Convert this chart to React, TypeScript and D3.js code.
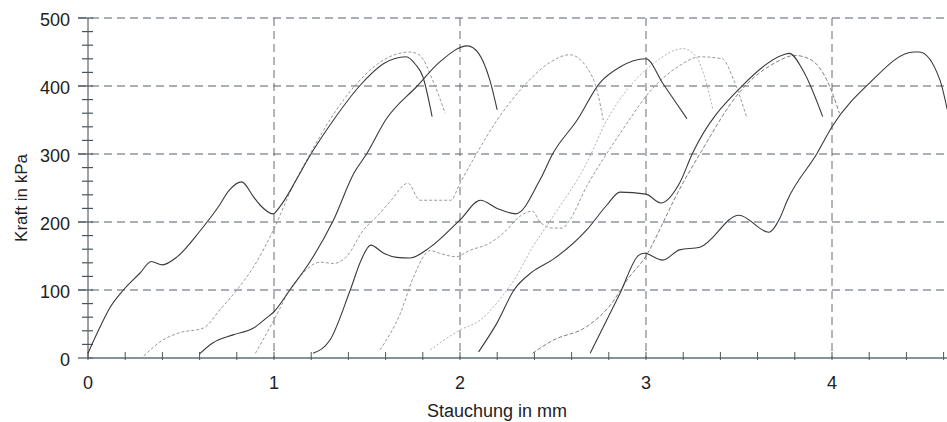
import React from "react";
import * as d3 from "d3";

// Kraft-Stauchungs-Kurven (Stauchung in mm, Kraft in kPa)
const kurveA = [[0, 7], [0.05, 37], [0.12, 75], [0.19, 100], [0.28, 125], [0.34, 142], [0.4, 137], [0.48, 149], [0.6, 186], [0.7, 222], [0.76, 247], [0.826, 259], [0.89, 237], [0.925, 225], [0.995, 212], [1.03, 222], [1.12, 262], [1.19, 296], [1.32, 350], [1.46, 400], [1.59, 433], [1.71, 443], [1.76, 432], [1.8, 414], [1.85, 355]];
const kurveB = [[0.3, 3], [0.4, 26], [0.49, 37], [0.62, 44], [0.71, 71], [0.8, 100], [0.89, 134], [1.0, 190], [1.1, 252], [1.2, 303], [1.3, 350], [1.45, 405], [1.6, 440], [1.73, 450], [1.78, 446], [1.86, 404], [1.92, 360]];
const kurveC = [[0.6, 6], [0.67, 22], [0.78, 34], [0.89, 44], [0.96, 59], [1.0, 68], [1.085, 100], [1.19, 140], [1.32, 203], [1.43, 272], [1.5, 301], [1.6, 350], [1.77, 400], [1.89, 435], [2.04, 459], [2.1, 448], [2.16, 409], [2.2, 365]];
const kurveD = [[0.9, 7], [1.0, 56], [1.085, 100], [1.14, 120], [1.25, 141], [1.32, 139], [1.39, 149], [1.48, 188], [1.56, 210], [1.63, 232], [1.72, 257], [1.785, 232], [1.95, 232], [2.0, 257], [2.09, 301], [2.2, 350], [2.34, 399], [2.48, 434], [2.59, 446], [2.68, 428], [2.74, 390], [2.77, 350]];
const kurveE = [[1.21, 7], [1.3, 26], [1.41, 100], [1.47, 145], [1.52, 166], [1.59, 154], [1.66, 148], [1.73, 147], [1.84, 163], [2.0, 203], [2.11, 232], [2.2, 220], [2.3, 212], [2.43, 262], [2.5, 301], [2.63, 350], [2.75, 404], [2.86, 428], [3.0, 440], [3.09, 404], [3.22, 352]];
const kurveF = [[1.57, 12], [1.68, 66], [1.75, 119], [1.84, 158], [1.89, 154], [1.98, 149], [2.05, 158], [2.16, 169], [2.25, 188], [2.32, 208], [2.39, 216], [2.43, 200], [2.5, 191], [2.55, 191], [2.59, 203], [2.68, 252], [2.79, 301], [2.91, 350], [3.0, 385], [3.17, 428], [3.29, 443], [3.41, 440], [3.47, 410], [3.54, 355]];
const kurveG = [[1.84, 12], [2.0, 41], [2.11, 56], [2.21, 85], [2.3, 119], [2.39, 163], [2.5, 208], [2.68, 286], [2.79, 350], [2.9, 395], [3.04, 433], [3.2, 455], [3.27, 443], [3.33, 399], [3.36, 365]];
const kurveH = [[2.1, 9], [2.2, 52], [2.29, 100], [2.39, 127], [2.5, 145], [2.68, 188], [2.79, 225], [2.86, 244], [3.0, 241], [3.08, 228], [3.18, 257], [3.25, 301], [3.52, 401], [3.74, 446], [3.77, 448], [3.85, 420], [3.95, 355]];
const kurveI = [[2.39, 7], [2.5, 26], [2.68, 46], [2.8, 75], [2.91, 119], [3.0, 150], [3.09, 198], [3.15, 232], [3.3, 305], [3.5, 390], [3.7, 435], [3.8, 445], [3.89, 438], [3.97, 410], [4.04, 360]];
const kurveJ = [[2.7, 7], [2.86, 95], [2.96, 151], [2.99, 154], [3.09, 144], [3.18, 159], [3.29, 163], [3.5, 210], [3.66, 185], [3.72, 206], [3.76, 232], [3.92, 301], [4.0, 340], [4.2, 404], [4.44, 450], [4.47, 450], [4.58, 409], [4.62, 365]];

const xTicks = [0, 1, 2, 3, 4];
const yTicks = [0, 100, 200, 300, 400, 500];

const curves = [
  { data: kurveB, color: "#999", dash: "3,2", w: 1 },
  { data: kurveD, color: "#999", dash: "3,2", w: 1 },
  { data: kurveF, color: "#999", dash: "3,2", w: 1 },
  { data: kurveG, color: "#b0b0b0", dash: "2,2", w: 1 },
  { data: kurveI, color: "#808080", dash: "4,2", w: 1 },
  { data: kurveA, color: "#3a3a3a", dash: null, w: 1.1 },
  { data: kurveC, color: "#3a3a3a", dash: null, w: 1.1 },
  { data: kurveE, color: "#3a3a3a", dash: null, w: 1.1 },
  { data: kurveH, color: "#3a3a3a", dash: null, w: 1.1 },
  { data: kurveJ, color: "#3a3a3a", dash: null, w: 1.1 },
];

const App = () => {
  const W = 947, H = 422;
  const x = d3.scaleLinear().domain([0, 5]).range([88, 1018]);
  const y = d3.scaleLinear().domain([0, 500]).range([358, 18]);
  const line = d3.line<number[]>().x((d) => x(d[0])).y((d) => y(d[1])).curve(d3.curveMonotoneX);
  const minorY = d3.range(0, 501, 20);
  const minorX = d3.range(0, 4.81, 0.2);
  const font = "'Liberation Sans', Arial, sans-serif";

  return (
    <svg width={W} height={H} style={{ position: "absolute", left: 0, top: 0, background: "#fff" }} fontFamily={font}>
      {/* horizontal grid */}
      {yTicks.filter((t) => t > 0).map((t) => (
        <line key={"gy" + t} x1={78} x2={W} y1={y(t)} y2={y(t)} stroke="#55606c" strokeWidth={1} strokeDasharray="8,5" />
      ))}
      {/* vertical grid */}
      {xTicks.filter((t) => t > 0).map((t) => (
        <line key={"gx" + t} x1={x(t)} x2={x(t)} y1={y(500)} y2={y(0)} stroke="#6a6a6a" strokeWidth={1} strokeDasharray="8,5" />
      ))}
      {/* y axis */}
      <line x1={x(0)} x2={x(0)} y1={y(500)} y2={y(0)} stroke="#444" strokeWidth={1} />
      {minorY.map((t) => (
        <line key={"ty" + t} x1={t % 100 === 0 ? 78 : 82} x2={93} y1={y(t)} y2={y(t)} stroke="#4a5560" strokeWidth={1.2} />
      ))}
      {/* x axis */}
      <line x1={x(0)} x2={W} y1={y(0)} y2={y(0)} stroke="#5a6f86" strokeWidth={1.6} />
      {minorX.map((t) => (
        <line key={"tx" + t} x1={x(t)} x2={x(t)} y1={y(0) - 6} y2={y(0) + 2} stroke="#555" strokeWidth={1} />
      ))}
      {/* curves */}
      {curves.map((c, i) => (
        <path key={"c" + i} d={line(c.data) || ""} fill="none" stroke={c.color} strokeWidth={c.w} strokeDasharray={c.dash || undefined} />
      ))}
      {/* labels */}
      {yTicks.map((t) => (
        <text key={"ly" + t} x={70} y={y(t) + 2} dy="0.35em" textAnchor="end" fontSize={18} fill="#222">{t}</text>
      ))}
      {xTicks.map((t) => (
        <text key={"lx" + t} x={x(t)} y={389} textAnchor="middle" fontSize={18} fill="#222">{t}</text>
      ))}
      <text x={497} y={417} textAnchor="middle" fontSize={18} fill="#222">Stauchung in mm</text>
      <text transform={`translate(27, ${y(250) + 10}) rotate(-90)`} textAnchor="middle" fontSize={17} fill="#222">Kraft in kPa</text>
    </svg>
  );
};

export default App;
